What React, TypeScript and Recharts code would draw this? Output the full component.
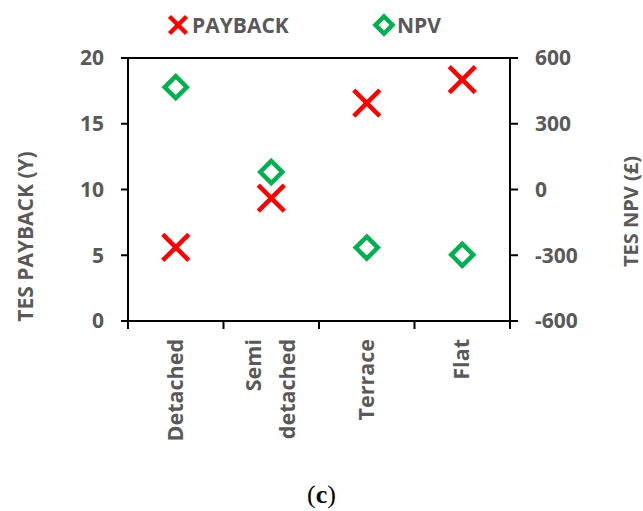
import React from 'react';
import { ComposedChart, Line, XAxis, YAxis, Legend, ReferenceLine } from 'recharts';

const categories = ['Detached', 'Semi detached', 'Terrace', 'Flat'];
const paybackValues = [5.6, 9.35, 16.57, 18.35];
const npvValues = [467, 80, -265, -298];
const paybackTicks = [0, 5, 10, 15, 20];
const npvTicks = [-600, -300, 0, 300, 600];

const data = categories.map((name, i) => ({ name, payback: paybackValues[i], npv: npvValues[i] }));

const FONT = '"Open Sans", "Liberation Sans", sans-serif';
const GRAY = '#595959';
const RED = '#FF0000';
const GREEN = '#00B050';

const XMark = ({ cx, cy, size = 26 }: any) => {
  if (cx == null || cy == null) return null;
  const h = size / 2;
  return (
    <g>
      <line x1={cx - h} y1={cy - h} x2={cx + h} y2={cy + h} stroke={RED} strokeWidth={4.5} />
      <line x1={cx - h} y1={cy + h} x2={cx + h} y2={cy - h} stroke={RED} strokeWidth={4.5} />
    </g>
  );
};

const Diamond = ({ cx, cy, size = 26 }: any) => {
  if (cx == null || cy == null) return null;
  const h = size / 2 - 2;
  return (
    <path
      d={`M${cx},${cy - h} L${cx + h},${cy} L${cx},${cy + h} L${cx - h},${cy} Z`}
      fill="none"
      stroke={GREEN}
      strokeWidth={4.5}
      strokeLinejoin="miter"
    />
  );
};

const CategoryTick = (props: any) => {
  const { x, y, payload, width, visibleTicksCount, index } = props;
  const half = payload && payload.offset ? payload.offset : width / visibleTicksCount / 2;
  const words = String(payload.value).split(' ');
  const lines = words.length > 1 ? words : [payload.value];
  const lineH = 34;
  const axisY = y - 8;
  return (
    <g>
      <line x1={x - half} y1={axisY} x2={x - half} y2={axisY + 8} stroke="#000" strokeWidth={2} />
      {index === visibleTicksCount - 1 && (
        <line x1={x + half} y1={axisY} x2={x + half} y2={axisY + 8} stroke="#000" strokeWidth={2} />
      )}
      <g transform={`translate(${x},${axisY + 18})`}>
        <text
          transform="rotate(-90)"
          textAnchor="end"
          fontFamily={FONT}
          fontWeight="bold"
          fontSize={21.5}
          fill={GRAY}
        >
          {lines.map((l: string, i: number) => (
            <tspan key={i} x={0} y={(i - (lines.length - 1) / 2) * lineH + 7}>
              {l}
            </tspan>
          ))}
        </text>
      </g>
    </g>
  );
};

const LegendContent = () => (
  <svg width={643} height={50} style={{ display: 'block' }}>
    <XMark cx={178} cy={25} size={17} />
    <text x={192} y={33} fontFamily={FONT} fontWeight="bold" fontSize={21} fill={GRAY}>
      PAYBACK
    </text>
    <Diamond cx={384} cy={25} size={21} />
    <text x={397} y={33} fontFamily={FONT} fontWeight="bold" fontSize={21} fill={GRAY}>
      NPV
    </text>
  </svg>
);

const LeftTitle = (props: any) => {
  const vb = props.viewBox || {};
  const cx = vb.x + 25;
  const cy = vb.y + vb.height / 2 + 47;
  return (
    <text
      x={cx}
      y={cy}
      transform={`rotate(-90, ${cx}, ${cy})`}
      textAnchor="middle"
      dominantBaseline="central"
      fontFamily={FONT}
      fontWeight="bold"
      fontSize={21}
      fill={GRAY}
    >
      TES PAYBACK (Y)
    </text>
  );
};

const RightTitle = (props: any) => {
  const vb = props.viewBox || {};
  const cx = vb.x + vb.width - 13;
  const cy = vb.y + vb.height / 2 + 22;
  return (
    <text
      x={cx}
      y={cy}
      transform={`rotate(-90, ${cx}, ${cy})`}
      textAnchor="middle"
      dominantBaseline="central"
      fontFamily={FONT}
      fontWeight="bold"
      fontSize={20}
      fill={GRAY}
    >
      TES NPV (£)
    </text>
  );
};

const tickStyle = { fontFamily: FONT, fontWeight: 'bold', fontSize: 21, fill: GRAY };

export default function App() {
  return (
    <div style={{ position: 'absolute', left: 0, top: 0, width: 643, height: 511, background: '#fff' }}>
      <ComposedChart width={643} height={511} data={data} margin={{ top: 58, right: 0, bottom: 0, left: 0 }}>
        <XAxis
          dataKey="name"
          xAxisId="x"
          scale="band"
          height={190}
          axisLine={{ stroke: '#000', strokeWidth: 2 }}
          tickLine={false}
          tickSize={8}
          tickMargin={0}
          tick={<CategoryTick />}
          interval={0}
        />
        <YAxis
          yAxisId="l"
          orientation="left"
          width={128}
          domain={[0, 20]}
          ticks={paybackTicks}
          axisLine={{ stroke: '#000', strokeWidth: 2 }}
          tickLine={{ stroke: '#000', strokeWidth: 2 }}
          tickSize={7}
          tickMargin={17}
          tick={tickStyle}
          label={<LeftTitle />}
        />
        <YAxis
          yAxisId="r"
          orientation="right"
          width={133}
          domain={[-600, 600]}
          ticks={npvTicks}
          axisLine={{ stroke: '#000', strokeWidth: 2 }}
          tickLine={{ stroke: '#000', strokeWidth: 2 }}
          tickSize={8}
          tickMargin={17}
          tick={{ ...tickStyle, textAnchor: 'start' }}
          label={<RightTitle />}
        />
        <ReferenceLine yAxisId="l" xAxisId="x" y={20} stroke="#000" strokeWidth={2} />
        <Legend
          layout="horizontal"
          verticalAlign="middle"
          align="center"
          content={<LegendContent />}
          wrapperStyle={{ top: 0, left: 0, width: 643, height: 50 }}
        />
        <Line
          xAxisId="x"
          yAxisId="l"
          dataKey="payback"
          stroke="none"
          strokeWidth={0}
          isAnimationActive={false}
          dot={(p: any) => <XMark key={`p${p.index}`} cx={p.cx} cy={p.cy} />}
          activeDot={false}
          legendType="none"
        />
        <Line
          xAxisId="x"
          yAxisId="r"
          dataKey="npv"
          stroke="none"
          strokeWidth={0}
          isAnimationActive={false}
          dot={(p: any) => <Diamond key={`n${p.index}`} cx={p.cx} cy={p.cy} />}
          activeDot={false}
          legendType="none"
        />
      </ComposedChart>
      <div
        style={{
          position: 'absolute',
          left: 0,
          top: 480,
          width: 643,
          textAlign: 'center',
          fontFamily: '"Liberation Serif", "DejaVu Serif", serif',
          fontSize: 26,
          color: '#000',
        }}
      >
        (<b>c</b>)
      </div>
    </div>
  );
}
